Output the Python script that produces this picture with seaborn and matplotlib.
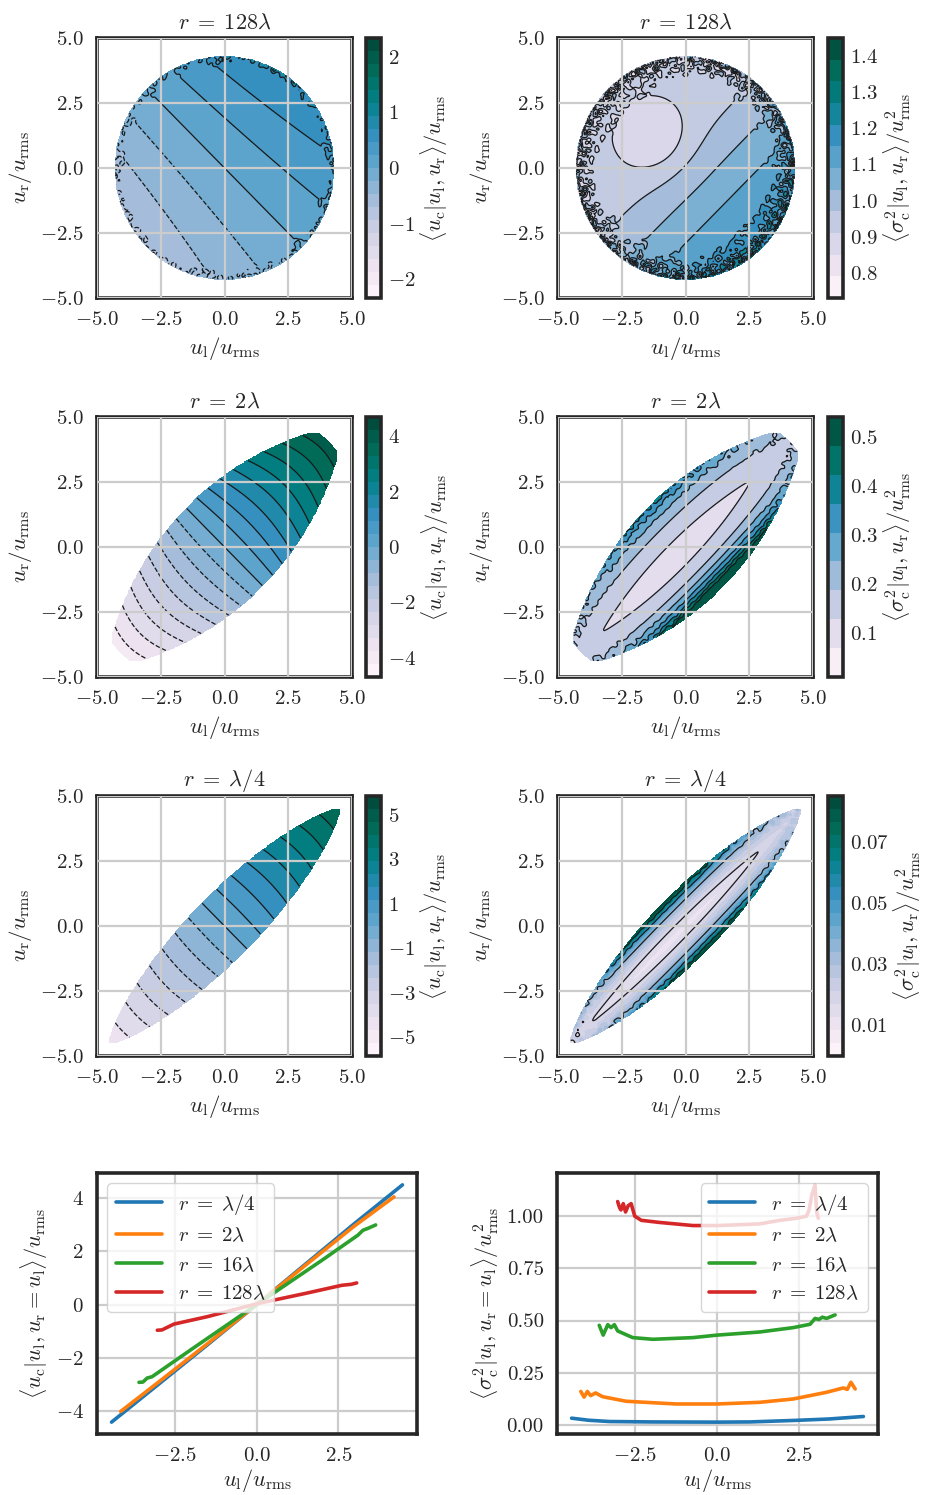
import numpy as np
import pandas as pd
import matplotlib
matplotlib.use("Agg")
import matplotlib.pyplot as plt
import seaborn as sns

# ---- values ----
titles = [r"$r\;=\;128\lambda$", r"$r\;=\;2\lambda$", r"$r\;=\;\lambda/4$"]

# sampled region in s=(ul+ur)/sqrt2, d=(ul-ur)/sqrt2
dom_s = [4.3, 6.6, 6.4]
dom_d = [4.3, 2.12, 1.25]
dom_pow = [0.5, 0.9, 0.75]
dom_box = [5.0, 4.4, 4.6]
dom_rad = [4.3, 5.75, 6.5]

# conditional mean  a*s*(1 + p*d + k*d^2)
mean_a = [0.16, 0.70, 0.72]
mean_p = [-0.05, 0.0, 0.0]
mean_k = [0.0, 0.04, 0.03]
mean_rim = [0.22, 0.0, 0.0]
mean_vmax = [2.34, 4.69, 5.85]
mean_ticks = [[-2, -1, 0, 1, 2], [-4, -2, 0, 2, 4], [-5, -3, -1, 1, 3, 5]]

# conditional variance, r = 128 lambda: soft ramp across the diagonal + dip
far_base, far_slope, far_knee = 0.93, 0.05, -1.15
far_dip, far_dip_ul, far_dip_ur, far_dip_w = 0.083, -1.3, 1.2, 0.95
# r = 2 lambda and lambda/4: v0 + cs*(s+ds)^2 + a|d| + b d^4 (upper-left / lower-right side)
var_v0 = [None, 0.095, 0.011]
var_cs = [None, 0.002, 0.00028]
var_ds = [None, 0.5, 0.6]
var_a_ul = [None, 0.072, 0.0237]
var_b_ul = [None, 0.0070, 0.021]
var_a_lr = [None, 0.072, 0.0237]
var_b_lr = [None, 0.024, 0.021]
var_rim = [0.11, 0.03, 0.006]
var_lo = [0.73, 0.01, 0.0]
var_hi = [1.45, 0.54, 0.085]
var_nband = [12, 9, 20]
var_line_step = [1, 1, 4]
var_ticks = [[0.8, 0.9, 1.0, 1.1, 1.2, 1.3, 1.4], [0.1, 0.2, 0.3, 0.4, 0.5],
             [0.01, 0.03, 0.05, 0.07]]

# profiles along u_r = u_l
series = [r"$r\;=\;\lambda/4$", r"$r\;=\;2\lambda$", r"$r\;=\;16\lambda$",
          r"$r\;=\;128\lambda$"]
mx_q = [-4.44, -3.0, -1.5, 0.0, 1.5, 3.0, 4.46]
my_q = [-4.40, -2.98, -1.50, 0.0, 1.52, 3.04, 4.48]
mx_2 = [-4.16, -3.0, -1.5, 0.0, 1.5, 3.0, 4.2]
my_2 = [-4.00, -2.90, -1.46, 0.0, 1.48, 2.95, 4.03]
mx_16 = [-3.60, -3.48, -3.35, -3.2, -2.0, 0.0, 2.0, 3.1, 3.25, 3.4, 3.64]
my_16 = [-2.91, -2.90, -2.75, -2.70, -1.68, 0.0, 1.66, 2.60, 2.78, 2.85, 2.98]
mx_128 = [-3.04, -2.9, -2.53, -1.5, 0.0, 1.5, 2.6, 2.9, 3.06]
my_128 = [-0.96, -0.95, -0.73, -0.45, 0.03, 0.42, 0.72, 0.76, 0.81]

vx_q = [-4.42, -3.9, -3.27, -2.0, 0.0, 1.0, 2.32, 3.4, 4.45]
vy_q = [0.032, 0.022, 0.016, 0.014, 0.013, 0.014, 0.021, 0.028, 0.040]
vx_2 = [-4.14, -4.04, -3.94, -3.84, -3.69, -3.48, -2.76, -1.24, 0.0, 1.3, 2.32,
        3.33, 3.84, 3.96, 4.07, 4.2]
vy_2 = [0.160, 0.133, 0.160, 0.140, 0.153, 0.135, 0.113, 0.100, 0.100, 0.108, 0.124,
        0.156, 0.177, 0.170, 0.204, 0.172]
vx_16 = [-3.58, -3.46, -3.32, -3.22, -3.12, -3.02, -2.56, -1.95, -0.73, 0.0, 1.3,
         2.32, 2.83, 2.98, 3.1, 3.2, 3.33, 3.59]
vy_16 = [0.477, 0.430, 0.480, 0.466, 0.480, 0.450, 0.418, 0.410, 0.418, 0.430, 0.445,
         0.466, 0.482, 0.510, 0.505, 0.516, 0.510, 0.527]
vx_128 = [-3.02, -2.96, -2.92, -2.85, -2.78, -2.70, -2.61, -2.50, -2.40, -2.30, -1.75,
          -0.73, 0.0, 1.3, 1.91, 2.42, 2.72, 2.80, 2.88, 2.98, 3.03, 3.08]
vy_128 = [1.07, 1.04, 1.03, 1.06, 1.02, 1.05, 1.06, 1.00, 0.99, 0.98, 0.97,
          0.955, 0.955, 0.963, 0.98, 0.99, 1.00, 1.03, 1.10, 1.15, 1.02, 0.99]

# ---- style ----
sns.set_theme(style="white")
plt.rcParams.update({
    "font.family": "serif",
    "font.serif": ["cmr10"],
    "mathtext.fontset": "cm",
    "axes.formatter.use_mathtext": True,
    "font.size": 15,
    "axes.grid": True,
    "grid.color": "#cccccc",
    "grid.linewidth": 1.6,
    "axes.edgecolor": "#262626",
    "axes.linewidth": 2.6,
    "xtick.labelsize": 15,
    "ytick.labelsize": 15,
    "axes.labelsize": 16.5,
    "axes.titlesize": 16,
    "legend.fontsize": 15,
})

W, H = 925, 1495


def box(x0, y0, x1, y1):
    return [x0 / W, 1 - y1 / H, (x1 - x0) / W, (y1 - y0) / H]


U = np.linspace(-5, 5, 321)
UL, UR = np.meshgrid(U, U)
S = (UL + UR) / np.sqrt(2)
D = (UL - UR) / np.sqrt(2)
texture = (np.sin(9.3 * UL + 3.1 * UR) * np.cos(2.7 * UL - 8.9 * UR)
           + 0.6 * np.sin(14.1 * UL - 11.3 * UR + 1.0) * np.cos(10.7 * UL + 13.9 * UR)
           + 0.5 * np.sin(5.9 * UL - 15.7 * UR + 2.1) * np.sin(12.3 * UL + 4.9 * UR))


def domain(i):
    rho = (S / dom_s[i]) ** 2 + (np.abs(D) / dom_d[i]) ** (1 / dom_pow[i])
    inside = ((rho <= 1) & (np.abs(UL) <= dom_box[i]) & (np.abs(UR) <= dom_box[i])
              & (UL ** 2 + UR ** 2 <= dom_rad[i] ** 2 + 1e-9))
    return rho, inside


def rim_weight(rho, start):
    return np.clip((rho - start) / (1 - start), 0, 1) ** 1.5


def finish(z, inside, lo, hi):
    eps = 1e-4 * (hi - lo)
    z = np.clip(z, lo + eps, hi - eps)
    return np.ma.masked_where(~inside, z)


def mean_field(i):
    rho, inside = domain(i)
    z = mean_a[i] * S * (1 + mean_p[i] * D + mean_k[i] * D ** 2)
    z = z + mean_rim[i] * rim_weight(rho, 0.8) * texture
    return finish(z, inside, -mean_vmax[i], mean_vmax[i])


def var_field(i):
    rho, inside = domain(i)
    if i == 0:
        z = far_base + far_slope * 0.5 * np.log1p(np.exp((D - far_knee) / 0.5))
        z = z - far_dip * np.exp(-((UL - far_dip_ul) ** 2 + (UR - far_dip_ur) ** 2)
                                 / (2 * far_dip_w ** 2))
        z = z + var_rim[i] * rim_weight(rho, 0.5) * texture
    else:
        ad = np.sqrt(D ** 2 + 0.003) - np.sqrt(0.003)
        fd = np.where(D < 0, var_a_ul[i] * ad + var_b_ul[i] * D ** 4,
                      var_a_lr[i] * ad + var_b_lr[i] * D ** 4)
        z = var_v0[i] + var_cs[i] * (S + var_ds[i]) ** 2 + fd
        z = z + var_rim[i] * rim_weight(rho, 0.6) * texture
    return finish(z, inside, var_lo[i], var_hi[i])


def style_map(ax, title):
    ax.set_xlim(-5, 5)
    ax.set_ylim(-5, 5)
    ax.set_xticks([-5, -2.5, 0, 2.5, 5])
    ax.set_yticks([-5, -2.5, 0, 2.5, 5])
    ax.set_axisbelow(False)
    ax.set_title(title, pad=7)
    ax.set_xlabel(r"$u_\mathrm{l}/u_\mathrm{rms}$")
    ax.set_ylabel(r"$u_\mathrm{r}/u_\mathrm{rms}$")


def style_cbar(cb, label):
    cb.outline.set_linewidth(2.6)
    cb.outline.set_edgecolor("#262626")
    cb.ax.tick_params(length=0, labelsize=15, pad=5)
    cb.set_label(label, fontsize=16, labelpad=2)


fig = plt.figure(figsize=(W / 100, H / 100), dpi=100)
rows = [(38, 298), (417, 677), (796, 1056)]
cmap = "PuBuGn"
mean_label = r"$\langle u_\mathrm{c}|u_\mathrm{l},u_\mathrm{r}\rangle/u_\mathrm{rms}$"
var_label = r"$\langle \sigma^2_\mathrm{c}|u_\mathrm{l},u_\mathrm{r}\rangle/u^2_\mathrm{rms}$"

for i, (y0, y1) in enumerate(rows):
    # conditional mean
    ax = fig.add_axes(box(97, y0, 352, y1))
    cax = fig.add_axes(box(366, y0, 381, y1))
    lv = mean_vmax[i] * np.linspace(-1, 1, 21)
    z = mean_field(i)
    cf = ax.contourf(UL, UR, z, levels=lv, cmap=cmap)
    ax.contour(UL, UR, z, levels=lv[1:-1], colors="k", linewidths=0.9)
    style_map(ax, titles[i])
    cb = fig.colorbar(cf, cax=cax, ticks=mean_ticks[i])
    style_cbar(cb, mean_label)

    # conditional variance
    ax = fig.add_axes(box(558, y0, 813, y1))
    cax = fig.add_axes(box(828, y0, 843, y1))
    lv = np.linspace(var_lo[i], var_hi[i], var_nband[i] + 1)
    z = var_field(i)
    cf = ax.contourf(UL, UR, z, levels=lv, cmap=cmap)
    ax.contour(UL, UR, z, levels=lv[var_line_step[i]:-1:var_line_step[i]],
               colors="k", linewidths=0.9)
    style_map(ax, titles[i])
    cb = fig.colorbar(cf, cax=cax, ticks=var_ticks[i])
    style_cbar(cb, var_label)

# profiles along the diagonal
palette = sns.color_palette("tab10", 4)
mean_sets = [(mx_q, my_q), (mx_2, my_2), (mx_16, my_16), (mx_128, my_128)]
var_sets = [(vx_q, vy_q), (vx_2, vy_2), (vx_16, vy_16), (vx_128, vy_128)]

ax1 = fig.add_axes(box(97, 1173, 417, 1434))
ax2 = fig.add_axes(box(557, 1173, 878, 1434))
for k, name in enumerate(series):
    df = pd.DataFrame({"x": mean_sets[k][0], "y": mean_sets[k][1]})
    sns.lineplot(data=df, x="x", y="y", ax=ax1, color=palette[k], lw=2.6,
                 label=name, estimator=None)
    df = pd.DataFrame({"x": var_sets[k][0], "y": var_sets[k][1]})
    sns.lineplot(data=df, x="x", y="y", ax=ax2, color=palette[k], lw=2.6,
                 label=name, estimator=None)

ax1.set_xticks([-2.5, 0, 2.5])
ax1.set_yticks([-4, -2, 0, 2, 4])
ax1.set_xlabel(r"$u_\mathrm{l}/u_\mathrm{rms}$", fontsize=16, labelpad=1)
ax1.set_ylabel(r"$\langle u_\mathrm{c}|u_\mathrm{l},u_\mathrm{r}=u_\mathrm{l}\rangle/u_\mathrm{rms}$",
               fontsize=16)
ax1.legend(loc="upper left", handlelength=2.2)

ax2.set_xticks([-2.5, 0, 2.5])
ax2.set_yticks([0, 0.25, 0.5, 0.75, 1.0])
ax2.yaxis.set_major_formatter(matplotlib.ticker.FormatStrFormatter("%.2f"))
ax2.set_xlabel(r"$u_\mathrm{l}/u_\mathrm{rms}$", fontsize=16, labelpad=1)
ax2.set_ylabel(r"$\langle \sigma^2_\mathrm{c}|u_\mathrm{l},u_\mathrm{r}=u_\mathrm{l}\rangle/u^2_\mathrm{rms}$",
               fontsize=16)
ax2.legend(loc="upper right", handlelength=2.2)

fig.savefig("out.png", dpi=100)
